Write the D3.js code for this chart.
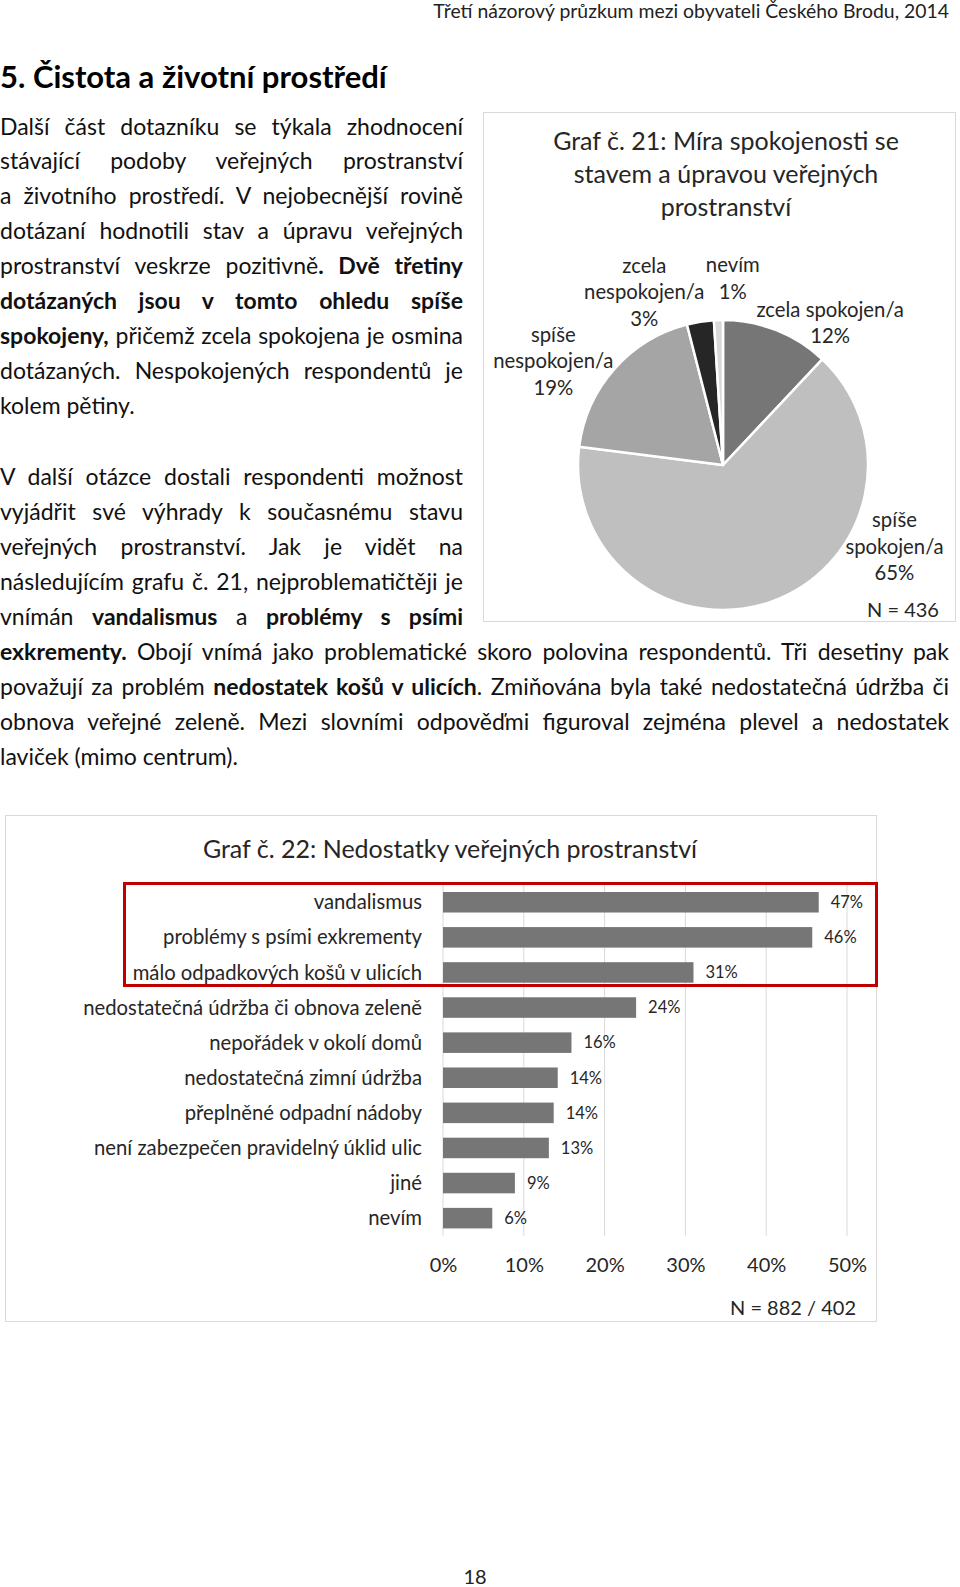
<!DOCTYPE html>
<html><head><meta charset="utf-8">
<script src="https://cdn.jsdelivr.net/npm/d3@7"></script>
<style>
html,body{margin:0;padding:0;background:#fff;}
body{width:960px;height:1587px;overflow:hidden;font-family:Lato,"Noto Sans",sans-serif;}
svg{display:block;}
text{font-family:Lato,"Noto Sans",sans-serif;}
</style></head><body>
<svg id="page" width="960" height="1587"></svg>
<script>
// ---------- DATA ----------
const pieCategories = ["zcela spokojen/a", "spíše spokojen/a", "spíše nespokojen/a", "zcela nespokojen/a", "nevím"];
const pieValues = [12, 65, 19, 3, 1];
const pieLabelLines = [["zcela spokojen/a"], ["spíše", "spokojen/a"], ["spíše", "nespokojen/a"], ["zcela", "nespokojen/a"], ["nevím"]];
const pieColors = ["#767676", "#bfbfbf", "#a5a5a5", "#262626", "#d9d9d9"];
const pieTitle = ["Graf č. 21: Míra spokojenosti se", "stavem a úpravou veřejných", "prostranství"];
const pieN = "N = 436";

const barCategories = ["vandalismus", "problémy s psími exkrementy", "málo odpadkových košů v ulicích",
  "nedostatečná údržba či obnova zeleně", "nepořádek v okolí domů", "nedostatečná zimní údržba",
  "přeplněné odpadní nádoby", "není zabezpečen pravidelný úklid ulic", "jiné", "nevím"];
const barValues = [46.5, 45.7, 31.0, 23.9, 15.9, 14.2, 13.7, 13.1, 8.9, 6.1];
const barTicks = [0, 10, 20, 30, 40, 50];
const barTitle = "Graf č. 22: Nedostatky veřejných prostranství";
const barN = "N = 882 / 402";

const headerText = "Třetí názorový průzkum mezi obyvateli Českého Brodu, 2014";
const headingText = "5. Čistota a životní prostředí";
const para1 = [
  "Další část dotazníku se týkala zhodnocení",
  "stávající podoby veřejných prostranství",
  "a životního prostředí. V nejobecnější rovině",
  "dotázaní hodnotili stav a úpravu veřejných",
  "prostranství veskrze pozitivně**. Dvě třetiny**",
  "**dotázaných jsou v tomto ohledu spíše**",
  "**spokojeny,** přičemž zcela spokojena je osmina",
  "dotázaných. Nespokojených respondentů je",
  "kolem pětiny."
];
const para2 = [
  "V další otázce dostali respondenti možnost",
  "vyjádřit své výhrady k současnému stavu",
  "veřejných prostranství. Jak je vidět na",
  "následujícím grafu č. 21, nejproblematičtěji je",
  "vnímán **vandalismus** a **problémy s psími**",
  "**exkrementy.** Obojí vnímá jako problematické skoro polovina respondentů. Tři desetiny pak",
  "považují za problém **nedostatek košů v ulicích**. Zmiňována byla také nedostatečná údržba či",
  "obnova veřejné zeleně. Mezi slovními odpověďmi figuroval zejména plevel a nedostatek",
  "laviček (mimo centrum)."
];
const pageNumber = "18";

// ---------- HELPERS ----------
const svg = d3.select("#page");
svg.append("rect").attr("width", 960).attr("height", 1587).attr("fill", "#fff");

function textLine(g, str, x, y, opt) {
  const o = Object.assign({size: 23, fill: "#111", anchor: "start", weight: 400}, opt);
  const t = g.append("text").attr("x", x).attr("y", y)
    .attr("text-anchor", o.anchor).attr("fill", o.fill)
    .style("font-size", o.size + "px").style("font-weight", o.weight);
  str.split("**").forEach((s, i) => {
    if (s) t.append("tspan").text(s).style("font-weight", i % 2 ? 700 : o.weight);
  });
  if (o.width != null) {
    const w = t.node().getComputedTextLength();
    const spaces = (str.replace(/\*\*/g, "").match(/ /g) || []).length;
    if (o.justify && w < o.width && spaces) {
      t.style("word-spacing", ((o.width - w) / spaces) + "px");
    } else if (o.fit || w > o.width) {
      const k = o.width / w;
      t.attr("transform", `translate(${x},${y}) scale(${k},1) translate(${-x},${-y})`);
    }
  }
  return t;
}

// ---------- PAGE TEXT ----------
const gt = svg.append("g");
textLine(gt, headerText, 949, 17.5, {size: 19.4, anchor: "end", fill: "#222"});
textLine(gt, headingText, 0, 88, {size: 30, weight: 700, width: 387, fit: true, fill: "#000"});

para1.forEach((s, i) => {
  const last = i === para1.length - 1;
  textLine(gt, s, 0, 134.5 + i * 34.95, {width: last ? 999 : 463, justify: !last});
});
para2.forEach((s, i) => {
  const last = i === para2.length - 1;
  const w = i < 5 ? 463 : 949;
  textLine(gt, s, 0, 484.5 + i * 35.1, {width: last ? 999 : w, justify: !last});
});
textLine(gt, pageNumber, 475, 1584, {size: 20, anchor: "middle", fill: "#222"});

// ---------- PIE CHART ----------
const gp = svg.append("g");
gp.append("rect").attr("x", 483.5).attr("y", 112.5).attr("width", 472).attr("height", 509)
  .attr("fill", "none").attr("stroke", "#d9d9d9").attr("stroke-width", 1);
pieTitle.forEach((s, i) => textLine(gp, s, 726, 150 + i * 33, {size: 25, anchor: "middle", fill: "#262626"}));

const cx = 723, cy = 465, R = 145;
const pie = d3.pie().sort(null).value(d => d)(pieValues);
const arc = d3.arc().innerRadius(0).outerRadius(R);
const gPie = gp.append("g").attr("transform", `translate(${cx},${cy})`);
gPie.selectAll("path").data(pie).join("path")
  .attr("d", arc).attr("fill", (d, i) => pieColors[i])
  .attr("stroke", "#fff").attr("stroke-width", 2.5).attr("stroke-linejoin", "round");

// label placement (polar, degrees clockwise from top / radius)
const labelPolar = [[37, 178], [115.5, 190], [301.5, 199], [335.5, 190], [3, 187]];
const fmtPct = v => Math.round(v) + "%";
pie.forEach((d, i) => {
  const [a, r] = labelPolar[i];
  const rad = a * Math.PI / 180;
  const lx = cx + r * Math.sin(rad), ly = cy - r * Math.cos(rad);
  const lines = pieLabelLines[i].concat([fmtPct(d.data)]);
  const lh = 26.5;
  lines.forEach((s, j) => {
    textLine(gp, s, lx, ly - (lines.length - 1) * lh / 2 + j * lh + 7, {size: 20.3, anchor: "middle", fill: "#262626"});
  });
});
textLine(gp, pieN, 903, 617, {size: 20, anchor: "middle", fill: "#262626"});

// ---------- BAR CHART ----------
const gb = svg.append("g");
gb.append("rect").attr("x", 5.5).attr("y", 815.5).attr("width", 871).attr("height", 506)
  .attr("fill", "none").attr("stroke", "#d9d9d9").attr("stroke-width", 1);
textLine(gb, barTitle, 450, 858, {size: 25, anchor: "middle", fill: "#262626"});

const x = d3.scaleLinear().domain([0, 50]).range([443, 847]);
const y = d3.scaleBand().domain(barCategories).range([884.7, 1235.7]).paddingInner(0.415).paddingOuter(0.2075);

// gridlines
gb.append("g").selectAll("line").data(barTicks).join("line")
  .attr("x1", d => x(d)).attr("x2", d => x(d))
  .attr("y1", y.range()[0]).attr("y2", y.range()[1])
  .attr("stroke", "#d9d9d9").attr("stroke-width", 1);

// x tick labels
const xAxis = d3.axisBottom(x).tickValues(barTicks).tickFormat(d => d + "%").tickSize(0).tickPadding(0);
const ga = gb.append("g").attr("transform", "translate(0,1258)").call(xAxis);
ga.select(".domain").remove();
ga.selectAll("text").attr("fill", "#262626").style("font-size", "20px").attr("dy", "0.71em");

// bars
gb.append("g").selectAll("rect").data(barValues).join("rect")
  .attr("x", x(0)).attr("y", (d, i) => y(barCategories[i]))
  .attr("width", d => x(d) - x(0)).attr("height", y.bandwidth())
  .attr("fill", "#767676");

// category labels
const yAxis = d3.axisLeft(y).tickSize(0).tickPadding(0);
const gy = gb.append("g").attr("transform", "translate(422,0)").call(yAxis);
gy.select(".domain").remove();
gy.selectAll("text").attr("fill", "#262626").style("font-size", "20.3px").attr("dy", "0.35em");

// value labels
gb.append("g").selectAll("text").data(barValues).join("text")
  .attr("x", d => x(d) + 12).attr("y", (d, i) => y(barCategories[i]) + y.bandwidth() / 2)
  .attr("dy", "0.35em").attr("fill", "#262626").style("font-size", "16.5px")
  .text(d => fmtPct(d));

// highlight box
gb.append("rect").attr("x", 124.5).attr("y", 883.5).attr("width", 752).attr("height", 102)
  .attr("fill", "none").attr("stroke", "#c00000").attr("stroke-width", 3);

textLine(gb, barN, 793, 1315, {size: 20, anchor: "middle", fill: "#262626"});
</script>
</body></html>
